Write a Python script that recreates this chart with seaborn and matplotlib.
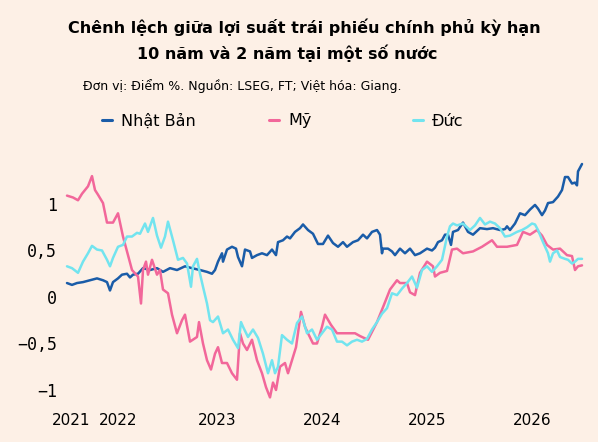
import pandas as pd
import matplotlib.pyplot as plt
import seaborn as sns

# weeks since start of series, spread in percentage points
jp_week = [0, 2.5, 5, 8, 11.5, 15, 18, 20, 21.5, 23, 25.5, 27.5, 30, 31.5, 33, 35.5, 38, 41.5, 45, 48,
           51.5, 55, 59, 62.5, 66.5, 70, 72.5, 74, 75.5, 77.5, 78, 80, 82.5, 84.5, 85.5, 87.5, 89, 91.5,
           92.5, 95, 97.5, 100, 102.5, 104.5, 105.5, 108, 110, 111.5, 114, 116.5, 118, 120.5, 123, 125.5,
           128, 130.5, 133, 135.5, 138, 140, 143, 145.5, 148, 150, 152.5, 155, 156.5, 157.5, 158, 160.5,
           162.5, 164, 166.5, 169, 171.5, 174, 176.5, 180, 182.5, 184, 185.5, 187.5, 189, 190.5, 192, 193,
           195.5, 198, 200.5, 203, 206.5, 210, 213, 216.5, 219, 220, 221.5, 224, 226.5, 229, 231.5, 234,
           235.5, 237.5, 239, 240.5, 243, 245.5, 247.5, 249, 250.5, 252.5, 254, 255, 255.5, 257.5]
jp_val = [0.15, 0.13, 0.15, 0.16, 0.18, 0.20, 0.18, 0.16, 0.07, 0.16, 0.20, 0.24, 0.25, 0.21, 0.24, 0.25,
          0.31, 0.29, 0.31, 0.27, 0.31, 0.29, 0.33, 0.31, 0.29, 0.27, 0.25, 0.29, 0.38, 0.47, 0.38, 0.51,
          0.54, 0.52, 0.43, 0.33, 0.51, 0.49, 0.42, 0.45, 0.47, 0.45, 0.51, 0.45, 0.59, 0.61, 0.65, 0.63,
          0.70, 0.74, 0.78, 0.72, 0.68, 0.57, 0.57, 0.66, 0.58, 0.54, 0.59, 0.54, 0.59, 0.61, 0.67, 0.63,
          0.70, 0.72, 0.67, 0.47, 0.52, 0.52, 0.49, 0.45, 0.52, 0.47, 0.52, 0.45, 0.47, 0.52, 0.50, 0.53,
          0.59, 0.61, 0.67, 0.67, 0.56, 0.70, 0.72, 0.80, 0.70, 0.67, 0.74, 0.73, 0.74, 0.72, 0.73, 0.76,
          0.72, 0.79, 0.90, 0.88, 0.94, 0.99, 0.95, 0.88, 0.93, 1.01, 1.02, 1.08, 1.15, 1.29, 1.29, 1.22,
          1.23, 1.20, 1.35, 1.43]

us_week = [0, 3, 5.5, 7.5, 10.5, 12.5, 14, 15.5, 18, 20, 23, 25.5, 28, 30.5, 32.5, 35.5, 37, 38, 39.5,
           40.5, 42.5, 45, 46.5, 48, 50.5, 52.5, 55, 57.5, 59, 61.5, 65, 66, 68, 70, 72, 74, 75.5, 77.5,
           80, 82.5, 85, 86.5, 88, 90, 92.5, 95, 97.5, 99.5, 101.5, 103, 104.5, 106.5, 109, 110.5, 112.5,
           114.5, 117, 119, 120.5, 123, 125, 127.5, 129, 132, 135, 138, 141.5, 144, 146.5, 150.5, 155,
           158, 161.5, 165, 166.5, 170, 171.5, 174, 176.5, 180, 183, 184, 186.5, 190, 192.5, 195, 198,
           203, 207.5, 212.5, 215, 220, 225, 228, 231.5, 235, 237.5, 240, 243, 246.5, 250, 252.5, 254,
           255.5, 257.5]
us_val = [1.09, 1.07, 1.04, 1.11, 1.19, 1.30, 1.15, 1.10, 1.01, 0.80, 0.80, 0.90, 0.65, 0.45, 0.29, 0.22,
          -0.07, 0.29, 0.38, 0.24, 0.40, 0.24, 0.29, 0.08, 0.04, -0.19, -0.39, -0.25, -0.19, -0.48, -0.43,
          -0.27, -0.50, -0.68, -0.78, -0.61, -0.54, -0.71, -0.71, -0.82, -0.89, -0.39, -0.50, -0.57, -0.46,
          -0.68, -0.82, -0.97, -1.08, -0.92, -1.00, -0.75, -0.71, -0.82, -0.68, -0.54, -0.16, -0.32, -0.39,
          -0.50, -0.50, -0.32, -0.19, -0.30, -0.39, -0.39, -0.39, -0.39, -0.42, -0.46, -0.27, -0.11, 0.08,
          0.18, 0.15, 0.15, 0.05, 0.02, 0.26, 0.38, 0.33, 0.22, 0.26, 0.28, 0.51, 0.52, 0.47, 0.49, 0.54,
          0.61, 0.54, 0.54, 0.56, 0.70, 0.67, 0.72, 0.66, 0.56, 0.51, 0.52, 0.45, 0.44, 0.29, 0.33, 0.34]

de_week = [0, 2.5, 5.5, 8, 10.5, 12.5, 15, 17.5, 20, 21.5, 23, 25.5, 28, 30, 32.5, 35, 36.5, 39, 40.5,
           43, 45, 47, 49, 50.5, 53, 55.5, 58, 60, 62, 63, 65, 66.5, 68, 70, 71.5, 73, 75.5, 78, 80.5,
           83, 85.5, 87, 88, 90.5, 93, 95.5, 98, 100.5, 102.5, 104, 105.5, 107.5, 110, 112.5, 115, 117.5,
           120, 122.5, 125, 127.5, 130, 132.5, 135, 137.5, 140, 142.5, 145, 147.5, 150, 152.5, 155,
           157.5, 160, 162.5, 165, 167.5, 170, 172.5, 175, 177.5, 180, 182.5, 185, 187.5, 190, 191.5,
           193, 195, 198, 201.5, 204, 206.5, 209, 211.5, 214, 216.5, 219, 221.5, 225, 227.5, 230, 232.5,
           234, 235.5, 238, 240.5, 241.5, 243, 245, 246.5, 249, 250.5, 252.5, 254, 255.5, 257.5]
de_val = [0.33, 0.31, 0.26, 0.38, 0.47, 0.55, 0.51, 0.50, 0.40, 0.33, 0.42, 0.54, 0.56, 0.65, 0.65, 0.69,
          0.68, 0.79, 0.70, 0.85, 0.66, 0.53, 0.65, 0.81, 0.61, 0.40, 0.42, 0.36, 0.11, 0.33, 0.41, 0.25,
          0.11, -0.07, -0.25, -0.27, -0.21, -0.39, -0.35, -0.46, -0.55, -0.27, -0.32, -0.43, -0.35, -0.44,
          -0.61, -0.82, -0.68, -0.82, -0.75, -0.41, -0.46, -0.50, -0.28, -0.21, -0.39, -0.35, -0.46, -0.39,
          -0.32, -0.35, -0.48, -0.48, -0.52, -0.48, -0.46, -0.48, -0.45, -0.35, -0.27, -0.18, -0.12, 0.04,
          0.02, 0.09, 0.15, 0.22, 0.10, 0.29, 0.33, 0.27, 0.33, 0.40, 0.65, 0.76, 0.79, 0.77, 0.79, 0.72,
          0.77, 0.85, 0.78, 0.81, 0.79, 0.74, 0.65, 0.66, 0.70, 0.72, 0.75, 0.79, 0.78, 0.72, 0.59, 0.47,
          0.38, 0.47, 0.50, 0.43, 0.41, 0.40, 0.36, 0.38, 0.41, 0.41]

countries = ['Nhật Bản', 'Mỹ', 'Đức']
colors = ['#1a5ca8', '#f2679a', '#72e4ef']
year_labels = ['2021', '2022', '2023', '2024', '2025', '2026']
year_ticks = [2, 25.5, 75, 127.5, 180, 232.5]
y_ticks = [-1, -0.5, 0, 0.5, 1]
y_labels = ['\u22121', '\u22120,5', '0', '0,5', '1']

df = pd.concat([
    pd.DataFrame({'week': jp_week, 'spread': jp_val, 'country': countries[0]}),
    pd.DataFrame({'week': us_week, 'spread': us_val, 'country': countries[1]}),
    pd.DataFrame({'week': de_week, 'spread': de_val, 'country': countries[2]}),
])

bg = '#fdf0e6'
sns.set_style('white')
plt.rcParams['font.family'] = ['DejaVu Sans']
plt.rcParams['text.color'] = 'black'
plt.rcParams['xtick.color'] = 'black'
plt.rcParams['ytick.color'] = 'black'

fig = plt.figure(figsize=(5.98, 4.42), dpi=100, facecolor=bg)
ax = fig.add_axes([0.102, 0.0756, 0.8863, 0.5786], facecolor=bg)
sns.lineplot(data=df, x='week', y='spread', hue='country', hue_order=countries,
             palette=dict(zip(countries, colors)), linewidth=1.8, ax=ax, legend=False)

ax.set_xlim(-3, 262)
ax.set_ylim(-1.2, 1.55)
ax.set_xticks(year_ticks)
ax.set_xticklabels(year_labels, fontsize=11)
ax.set_yticks(y_ticks)
ax.set_yticklabels(y_labels, fontsize=12, family='DejaVu Sans Mono')
ax.tick_params(length=0, pad=3)
ax.set_xlabel('')
ax.set_ylabel('')
sns.despine(ax=ax, left=True, bottom=True)

fig.text(304 / 598, 1 - 27 / 442, 'Chênh lệch giữa lợi suất trái phiếu chính phủ kỳ hạn',
         ha='center', va='center', fontsize=11.5, fontweight='bold')
fig.text(287 / 598, 1 - 53 / 442, '10 năm và 2 năm tại một số nước',
         ha='center', va='center', fontsize=11.5, fontweight='bold')
fig.text(83 / 598, 1 - 86 / 442, 'Đơn vị: Điểm %. Nguồn: LSEG, FT; Việt hóa: Giang.',
         ha='left', va='center', fontsize=9)

for name, col, xpos in zip(countries, colors, [102, 269, 413]):
    h = plt.Line2D([], [], color=col, linewidth=2.2)
    fig.legend([h], [name], loc='center left', bbox_to_anchor=(xpos / 598, 1 - 121 / 442),
               frameon=False, fontsize=11.5, handlelength=0.6, handletextpad=0.6,
               borderpad=0, borderaxespad=0)

fig.savefig('out.png', dpi=100, facecolor=bg)
